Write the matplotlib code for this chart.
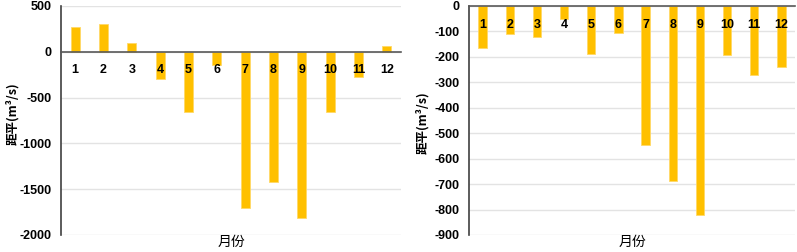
import matplotlib.pyplot as plt
import numpy as np

months = ['1', '2', '3', '4', '5', '6', '7', '8', '9', '10', '11', '12']
# left panel anomalies (m3/s)
left_vals = [270, 306, 98, -292, -660, -142, -1710, -1418, -1818, -660, -270, 58]
# right panel anomalies (m3/s)
right_vals = [-165, -112, -121, -51, -188, -105, -547, -688, -823, -193, -272, -240]

plt.rcParams['font.family'] = ['Liberation Sans', 'Noto Sans CJK SC', 'DejaVu Sans']
plt.rcParams['font.weight'] = 'bold'

fig = plt.figure(figsize=(7.97, 2.52), dpi=100)
ax1 = fig.add_axes([61/797, 1-235/252, 340/797, 229/252])
ax2 = fig.add_axes([469/797, 1-235/252, 326/797, 229/252])

bar_col = '#FFC000'
cjk = ['Noto Sans CJK SC', 'DejaVu Sans']


def draw(ax, vals, ylim, yticks, ylab_x, ylab_y):
    x = np.arange(len(months))
    for t in yticks:
        ax.axhline(t, color='#e3e3e3', linewidth=1, zorder=0.5)
    ax.bar(x, vals, width=0.31, color=bar_col, edgecolor='#FFD966', linewidth=0.6, zorder=1)
    ax.set_axisbelow(False)
    ax.set_xlim(-0.5, 11.5)
    ax.set_ylim(*ylim)
    ax.tick_params(axis='both', length=0, labelsize=9, labelcolor='black')
    ax.tick_params(axis='y', pad=7)
    ax.tick_params(axis='x', pad=9)
    ax.set_yticks(yticks)
    ax.set_yticklabels([str(t) for t in yticks], fontweight='bold')
    ax.set_xticks(x)
    ax.set_xticklabels(months, fontweight='bold')
    ax.spines['top'].set_visible(False)
    ax.spines['right'].set_visible(False)
    ax.spines['bottom'].set_position(('data', 0))
    ax.spines['bottom'].set_color('#595959')
    ax.spines['bottom'].set_linewidth(1.2)
    ax.spines['left'].set_color('#404040')
    ax.spines['left'].set_linewidth(1.2)
    ax.set_xlabel('月份', fontsize=10, family=cjk, fontweight='normal', va='center')
    ax.xaxis.set_label_coords(0.5, -0.03)
    ax.set_ylabel('距平(m³/s)', fontsize=9, family=cjk, fontweight='bold')
    ax.yaxis.set_label_coords(ylab_x, ylab_y)


draw(ax1, left_vals, (-2000, 500), [500, 0, -500, -1000, -1500, -2000], -0.124, 0.53)
draw(ax2, right_vals, (-900, 0), [0, -100, -200, -300, -400, -500, -600, -700, -800, -900], -0.123, 0.49)

fig.savefig('out.png', dpi=100)
